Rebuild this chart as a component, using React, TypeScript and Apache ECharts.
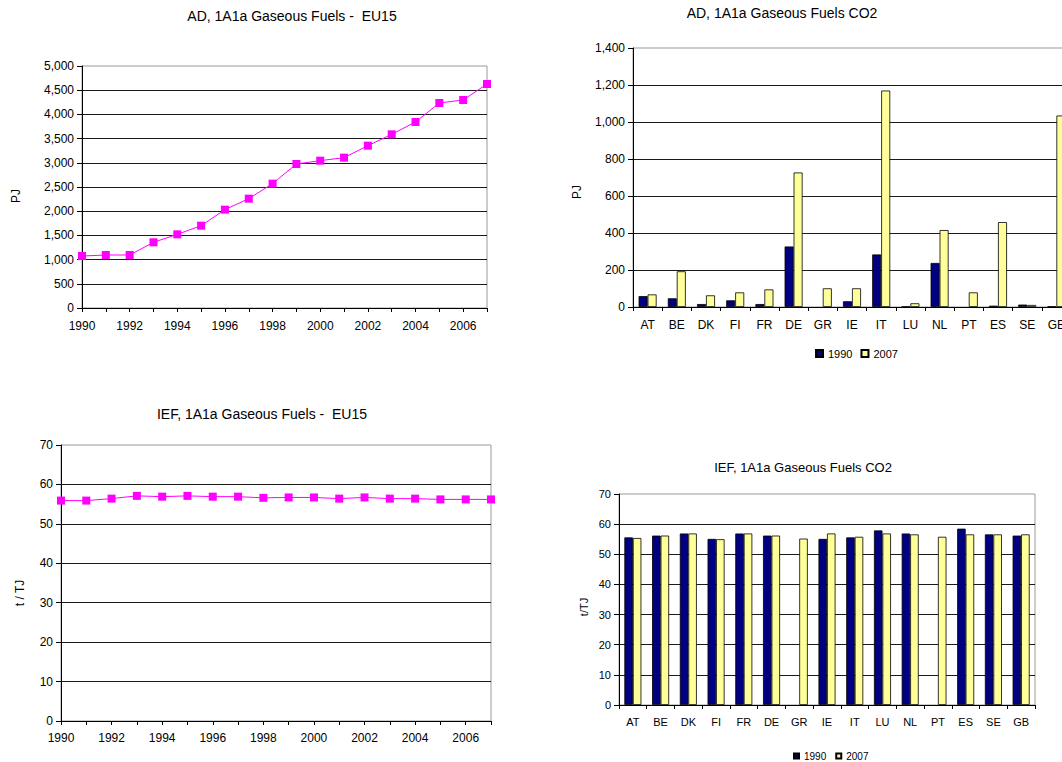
import React, { useEffect, useRef } from "react";
import * as echarts from "echarts";

const years = ["1990", "1991", "1992", "1993", "1994", "1995", "1996", "1997", "1998", "1999", "2000", "2001", "2002", "2003", "2004", "2005", "2006", "2007"];
const adEU15 = [1074, 1095, 1095, 1357, 1522, 1701, 2032, 2259, 2569, 2975, 3044, 3106, 3354, 3588, 3843, 4236, 4298, 4628];
const iefEU15 = [55.9, 55.9, 56.4, 57.1, 56.9, 57.1, 56.9, 56.9, 56.6, 56.7, 56.7, 56.4, 56.7, 56.4, 56.4, 56.2, 56.2, 56.2];

const countries = ["AT", "BE", "DK", "FI", "FR", "DE", "GR", "IE", "IT", "LU", "NL", "PT", "ES", "SE", "GB"];
const ad1990 = [59, 47, 16, 36, 16, 327, null, 31, 284, 2, 238, null, 7, 13, 3];
const ad2007 = [68, 193, 63, 79, 95, 727, 101, 101, 1170, 20, 416, 79, 459, 11, 1035];
const ief1990 = [55.6, 56.2, 56.9, 55.1, 56.9, 56.2, null, 55.1, 55.6, 57.9, 56.9, null, 58.5, 56.6, 56.2];
const ief2007 = [55.4, 56.2, 56.9, 55.0, 56.9, 56.2, 55.2, 56.9, 55.8, 56.9, 56.6, 55.8, 56.6, 56.6, 56.6];

const seriesNames = ["1990", "2007"];
const titles = [
  "AD, 1A1a Gaseous Fuels -  EU15",
  "AD, 1A1a Gaseous Fuels CO2",
  "IEF, 1A1a Gaseous Fuels -  EU15",
  "IEF, 1A1a Gaseous Fuels CO2",
];
const axisNames = ["PJ", "PJ", "t / TJ", "t/TJ"];

const FONT = "'Liberation Sans', Arial, sans-serif";
const NAVY = "#000080";
const YELLOW = "#FFFF99";
const MAGENTA = "#FF00FF";

export default function App() {
  const ref = useRef<HTMLDivElement>(null);

  useEffect(() => {
    if (!ref.current) return;
    const chart = echarts.init(ref.current, undefined, { renderer: "svg" });

    const grids = [
      { left: 82, top: 66, width: 405, height: 242 },
      { left: 633, top: 48, width: 438, height: 259 },
      { left: 61, top: 445, width: 430, height: 276 },
      { left: 619, top: 494, width: 416, height: 211 },
    ].map((g) => ({ ...g, show: true, borderColor: "#999", borderWidth: 1, backgroundColor: "transparent", containLabel: false }));

    const fmt = (v: number) => v.toLocaleString("en-US");

    const yAxis = (gi: number, max: number, interval: number, fs: number) => ({
      type: "value",
      gridIndex: gi,
      min: 0,
      max,
      interval,
      axisLine: { show: true, lineStyle: { color: "#000", width: 1 } },
      axisTick: { show: true, length: 5, lineStyle: { color: "#000" } },
      axisLabel: { formatter: fmt, color: "#000", fontSize: fs, fontFamily: FONT, margin: 8 },
      splitLine: { show: true, showMaxLine: false, lineStyle: { color: "#1a1a1a", width: 1 } },
    });

    const lineX = (gi: number, margin: number) => ({
      type: "category",
      gridIndex: gi,
      data: years,
      boundaryGap: false,
      axisLine: { show: true, lineStyle: { color: "#000", width: 1 } },
      axisTick: { show: true, length: 4, interval: 0, lineStyle: { color: "#000" } },
      axisLabel: { interval: 1, color: "#000", fontSize: 12, fontFamily: FONT, margin },
      splitLine: { show: false },
    });

    const barX = (gi: number, fs: number, margin: number) => ({
      type: "category",
      gridIndex: gi,
      data: countries,
      boundaryGap: true,
      axisLine: { show: true, lineStyle: { color: "#000", width: 1 } },
      axisTick: { show: true, length: 4, interval: 0, lineStyle: { color: "#000" } },
      axisLabel: { interval: 0, color: "#000", fontSize: fs, fontFamily: FONT, margin },
      splitLine: { show: false },
    });

    const textEl = (text: string, x: number, y: number, fs: number, rotate = false) => ({
      type: "text",
      x,
      y,
      rotation: rotate ? Math.PI / 2 : 0,
      style: {
        text,
        fill: "#000",
        font: `${fs}px ${FONT}`,
        textAlign: "center",
        textVerticalAlign: "middle",
      },
      z: 10,
    });

    const lineSeries = (xi: number, data: number[]) => ({
      type: "line",
      xAxisIndex: xi,
      yAxisIndex: xi,
      data,
      symbol: "rect",
      symbolSize: 8,
      clip: false,
      lineStyle: { color: MAGENTA, width: 1 },
      itemStyle: { color: MAGENTA },
      z: 5,
    });

    const barSeries = (xi: number, name: string, data: (number | null)[], color: string, bw: number) => ({
      type: "bar",
      name,
      xAxisIndex: xi,
      yAxisIndex: xi,
      data: data.map((v) => (v === null ? "-" : v)),
      barWidth: bw,
      barGap: "0%",
      itemStyle: { color, borderColor: "#000", borderWidth: 0.8 },
      z: 5,
    });

    chart.setOption({
      animation: false,
      backgroundColor: "#fff",
      textStyle: { fontFamily: FONT },
      grid: grids,
      xAxis: [lineX(0, 12), barX(1, 12, 12), lineX(2, 11), barX(3, 11, 11)],
      yAxis: [yAxis(0, 5000, 500, 12), yAxis(1, 1400, 200, 12), yAxis(2, 70, 10, 12), yAxis(3, 70, 10, 11)],
      legend: [
        {
          data: seriesNames,
          left: 815,
          top: 348,
          padding: 0,
          icon: "rect",
          itemWidth: 7,
          itemHeight: 7,
          itemGap: 8,
          textStyle: { fontSize: 11, color: "#000", fontFamily: FONT },
          selectedMode: false,
        },
        {
          data: seriesNames,
          left: 793,
          top: 751,
          padding: 0,
          icon: "rect",
          itemWidth: 5,
          itemHeight: 5,
          itemGap: 9,
          textStyle: { fontSize: 10, color: "#000", fontFamily: FONT },
          selectedMode: false,
        },
      ],
      graphic: [
        textEl(titles[0], 292, 16, 14),
        textEl(titles[1], 782, 13, 14),
        textEl(titles[2], 262, 414, 14),
        textEl(titles[3], 803, 467, 13),
        textEl(axisNames[0], 16, 196, 12, true),
        textEl(axisNames[1], 577, 192, 12, true),
        textEl(axisNames[2], 20, 593, 12, true),
        textEl(axisNames[3], 584, 607, 11, true),
      ],
      series: [
        lineSeries(0, adEU15),
        barSeries(1, seriesNames[0], ad1990, NAVY, 9),
        barSeries(1, seriesNames[1], ad2007, YELLOW, 9),
        lineSeries(2, iefEU15),
        barSeries(3, seriesNames[0], ief1990, NAVY, 8.5),
        barSeries(3, seriesNames[1], ief2007, YELLOW, 8.5),
      ],
    });

    return () => chart.dispose();
  }, []);

  return (
    <div
      ref={ref}
      style={{ position: "fixed", left: 0, top: 0, width: 1100, height: 762, background: "#fff" }}
    />
  );
}
